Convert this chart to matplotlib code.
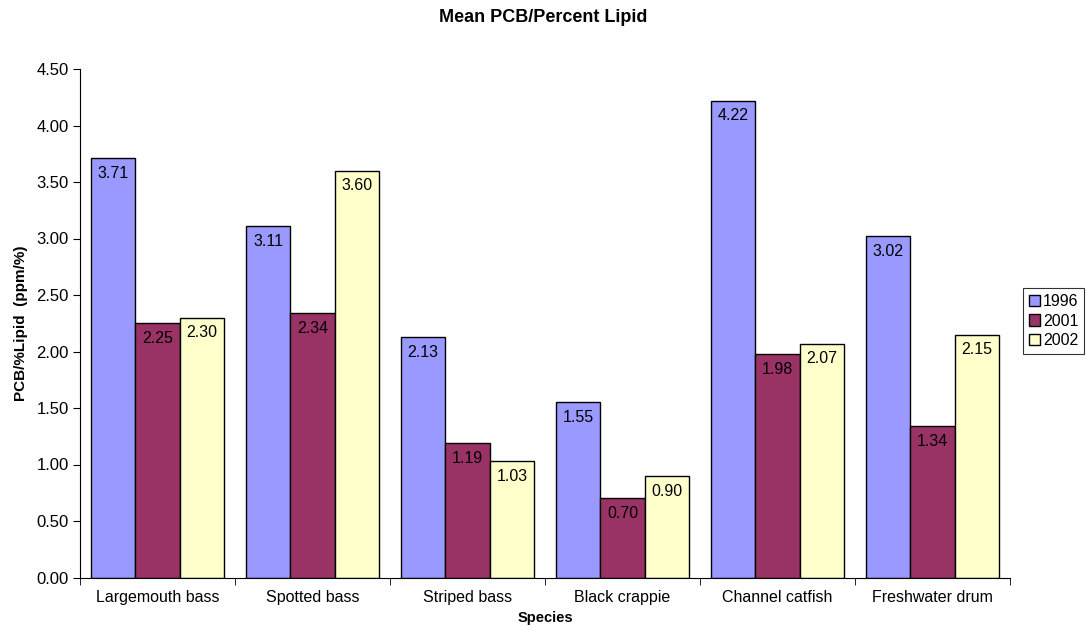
import numpy as np
import matplotlib.pyplot as plt

plt.rcParams['font.family'] = ['Liberation Sans', 'DejaVu Sans']

# 数据
species = ['Largemouth bass', 'Spotted bass', 'Striped bass', 'Black crappie',
           'Channel catfish', 'Freshwater drum']
years = ['1996', '2001', '2002']
vals_1996 = [3.71, 3.11, 2.13, 1.55, 4.22, 3.02]
vals_2001 = [2.25, 2.34, 1.19, 0.70, 1.98, 1.34]
vals_2002 = [2.30, 3.60, 1.03, 0.90, 2.07, 2.15]
colors = ['#9999FF', '#993366', '#FFFFCC']

fig = plt.figure(figsize=(10.86, 6.31), dpi=100)
ax = fig.add_axes([80 / 1086, 1 - 577.5 / 631, 930 / 1086, 508.5 / 631])

x = np.arange(len(species))
w = 0.287
for i, (vals, yr) in enumerate(zip([vals_1996, vals_2001, vals_2002], years)):
    bars = ax.bar(x + (i - 1) * w, vals, w, color=colors[i], edgecolor='black',
                  linewidth=1, label=yr)
    for b, v in zip(bars, vals):
        ax.annotate(f'{v:.2f}', (b.get_x() + b.get_width() / 2, v),
                    xytext=(0, -11), textcoords='offset points',
                    ha='center', va='center', fontsize=11.5)

ax.set_xlim(-0.5, len(species) - 0.5)
ax.set_ylim(0, 4.5)
yt = np.arange(0, 4.51, 0.5)
ax.set_yticks(yt)
ax.set_yticklabels([f'{t:.2f}' for t in yt], fontsize=12)
ax.set_xticks(x)
ax.set_xticklabels(species, fontsize=11.5)
ax.tick_params(axis='x', length=0, pad=9)
ax.set_xticks(np.arange(-0.5, len(species)), minor=True)
ax.tick_params(axis='x', which='minor', length=5, direction='out')
ax.tick_params(axis='y', length=5, direction='out', pad=3)
ax.spines['top'].set_visible(False)
ax.spines['right'].set_visible(False)

ax.set_xlabel('Species', fontsize=10.5, fontweight='bold', labelpad=4)
ax.set_ylabel('PCB/%Lipid  (ppm/%)', fontsize=11, fontweight='bold', labelpad=6)
fig.text(0.5, 1 - 18 / 631, 'Mean PCB/Percent Lipid', ha='center', va='center',
         fontsize=13, fontweight='bold')

leg = ax.legend(loc='center left', bbox_to_anchor=((1023 - 80) / 930, (577.5 - 321) / 508.5),
                fontsize=11.5, frameon=True, fancybox=False, edgecolor='black',
                handlelength=0.7, handleheight=0.7, handletextpad=0.2,
                borderpad=0.35, labelspacing=0.3, borderaxespad=0)
leg.get_frame().set_linewidth(0.8)

fig.savefig('out.png', dpi=100)
